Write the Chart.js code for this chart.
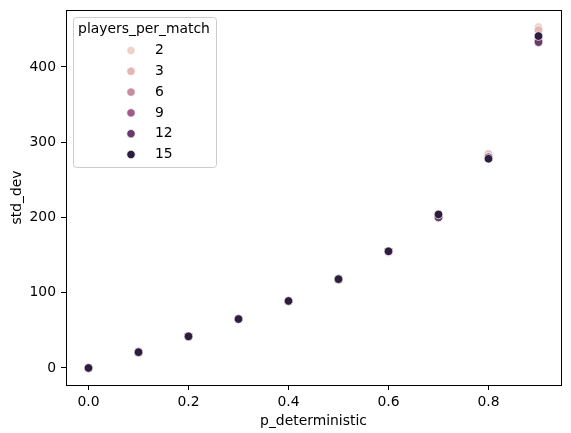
<!DOCTYPE html>
<html>
<head>
<meta charset="utf-8">
<script src="https://cdn.jsdelivr.net/npm/chart.js@4.4.1/dist/chart.umd.min.js"></script>
<style>
  html, body { margin: 0; padding: 0; background: #fff; }
  canvas { display: block; }
</style>
</head>
<body>
<canvas id="chart" width="571" height="433"></canvas>
<script>
// data
const pDeterministic = [0.0, 0.1, 0.2, 0.3, 0.4, 0.5, 0.6, 0.7, 0.8, 0.9];
const playersPerMatch = [2, 3, 6, 9, 12, 15];
const std2 = [0, 20.5, 42, 65, 89, 118, 153, 206, 285, 453];
const std3 = [0, 20.5, 42, 65, 89, 118, 154, 205, 284, 449];
const std6 = [0, 21, 42, 65, 89, 118, 155, 204, 281, 438];
const std9 = [0, 21, 42, 65, 89, 118, 155, 202, 279, 435];
const std12 = [0, 21, 42, 65, 89, 118, 155, 200, 280, 433];
const std15 = [0, 21, 42, 65, 89, 118, 155, 204, 278, 441];
const seriesValues = [std2, std3, std6, std9, std12, std15];
const seriesColors = ["#edd1cb", "#e3b8b3", "#c78c9f", "#a05b8b", "#6a3a6b", "#2d1e3e"];
const xTicks = [0.0, 0.2, 0.4, 0.6, 0.8];
const yTicks = [0, 100, 200, 300, 400];

const FONT = "DejaVu Sans";
const FS = 13.9;
Chart.defaults.font.family = FONT;
Chart.defaults.font.size = FS;
Chart.defaults.color = "#000";

// full box around plot area, like matplotlib spines
const framePlugin = {
    id: "frame",
    afterDatasetsDraw(chart) {
        const a = chart.chartArea;
        const ctx = chart.ctx;
        ctx.save();
        ctx.strokeStyle = "#000";
        ctx.lineWidth = 1;
        ctx.strokeRect(Math.round(a.left) + 0.5, Math.round(a.top) + 0.5,
            Math.round(a.right - a.left), Math.round(a.bottom - a.top));
        ctx.restore();
    }
};

// legend drawn inside the axes (upper left)
const legendPlugin = {
    id: "innerLegend",
    afterDraw(chart) {
        const ctx = chart.ctx;
        ctx.save();
        const bx = 73.5, by = 17.5, bw = 143, bh = 150, r = 3;
        ctx.beginPath();
        ctx.moveTo(bx + r, by);
        ctx.lineTo(bx + bw - r, by);
        ctx.quadraticCurveTo(bx + bw, by, bx + bw, by + r);
        ctx.lineTo(bx + bw, by + bh - r);
        ctx.quadraticCurveTo(bx + bw, by + bh, bx + bw - r, by + bh);
        ctx.lineTo(bx + r, by + bh);
        ctx.quadraticCurveTo(bx, by + bh, bx, by + bh - r);
        ctx.lineTo(bx, by + r);
        ctx.quadraticCurveTo(bx, by, bx + r, by);
        ctx.closePath();
        ctx.fillStyle = "rgba(255,255,255,0.8)";
        ctx.fill();
        ctx.strokeStyle = "#cccccc";
        ctx.lineWidth = 1;
        ctx.stroke();

        ctx.font = FS + "px '" + FONT + "'";
        ctx.fillStyle = "#000";
        ctx.textBaseline = "middle";
        ctx.textAlign = "center";
        ctx.fillText("players_per_match", 144, 29);
        ctx.textAlign = "left";
        playersPerMatch.forEach((p, i) => {
            const y = 50.5 + i * 20.8;
            ctx.beginPath();
            ctx.arc(131, y, 4.2, 0, Math.PI * 2);
            ctx.fillStyle = seriesColors[i];
            ctx.fill();
            ctx.strokeStyle = "#fff";
            ctx.lineWidth = 0.7;
            ctx.stroke();
            ctx.fillStyle = "#000";
            ctx.fillText(String(p), 155, y);
        });
        ctx.restore();
    }
};

const datasets = playersPerMatch.map((p, i) => ({
    label: String(p),
    data: pDeterministic.map((x, j) => ({ x: x, y: seriesValues[i][j] })),
    backgroundColor: seriesColors[i],
    borderColor: "#ffffff",
    borderWidth: 0.7,
    pointRadius: 4.3,
    pointHoverRadius: 4.3,
    order: playersPerMatch.length - i
}));

// matplotlib-like 5% margins from the data
const allY = seriesValues.flat();
const yLo = Math.min(...allY), yHi = Math.max(...allY);
const yPad = (yHi - yLo) * 0.05;
const xLo = Math.min(...pDeterministic), xHi = Math.max(...pDeterministic);
const xPad = (xHi - xLo) * 0.05;

const noPad = scale => {
    scale.paddingTop = 0; scale.paddingBottom = 0;
    scale.paddingLeft = 0; scale.paddingRight = 0;
};

const ctx = document.getElementById("chart").getContext("2d");
new Chart(ctx, {
    type: "scatter",
    data: { datasets: datasets },
    options: {
        responsive: false,
        animation: false,
        layout: { padding: { left: 0, top: 10, right: 10, bottom: 0 } },
        plugins: {
            legend: { display: false },
            tooltip: { enabled: false },
            title: { display: false }
        },
        scales: {
            x: {
                type: "linear",
                min: xLo - xPad,
                max: xHi + xPad,
                afterBuildTicks: scale => { scale.ticks = xTicks.map(v => ({ value: v })); },
                afterFit: scale => { scale.height = 48; noPad(scale); },
                border: { display: false },
                grid: { drawOnChartArea: false, drawTicks: true, tickLength: 5, tickColor: "#000", tickWidth: 1 },
                ticks: { color: "#000", padding: 4, maxRotation: 0, callback: v => v.toFixed(1) },
                title: { display: true, text: "p_deterministic", color: "#000", padding: { top: 3, bottom: 3 } }
            },
            y: {
                type: "linear",
                min: yLo - yPad,
                max: yHi + yPad,
                afterBuildTicks: scale => { scale.ticks = yTicks.map(v => ({ value: v })); },
                afterFit: scale => { scale.width = 66; noPad(scale); },
                border: { display: false },
                grid: { drawOnChartArea: false, drawTicks: true, tickLength: 5, tickColor: "#000", tickWidth: 1 },
                ticks: { color: "#000", padding: 5, callback: v => String(v) },
                title: { display: true, text: "std_dev", color: "#000", padding: { top: 9, bottom: 9 } }
            }
        }
    },
    plugins: [framePlugin, legendPlugin]
});
</script>
</body>
</html>
